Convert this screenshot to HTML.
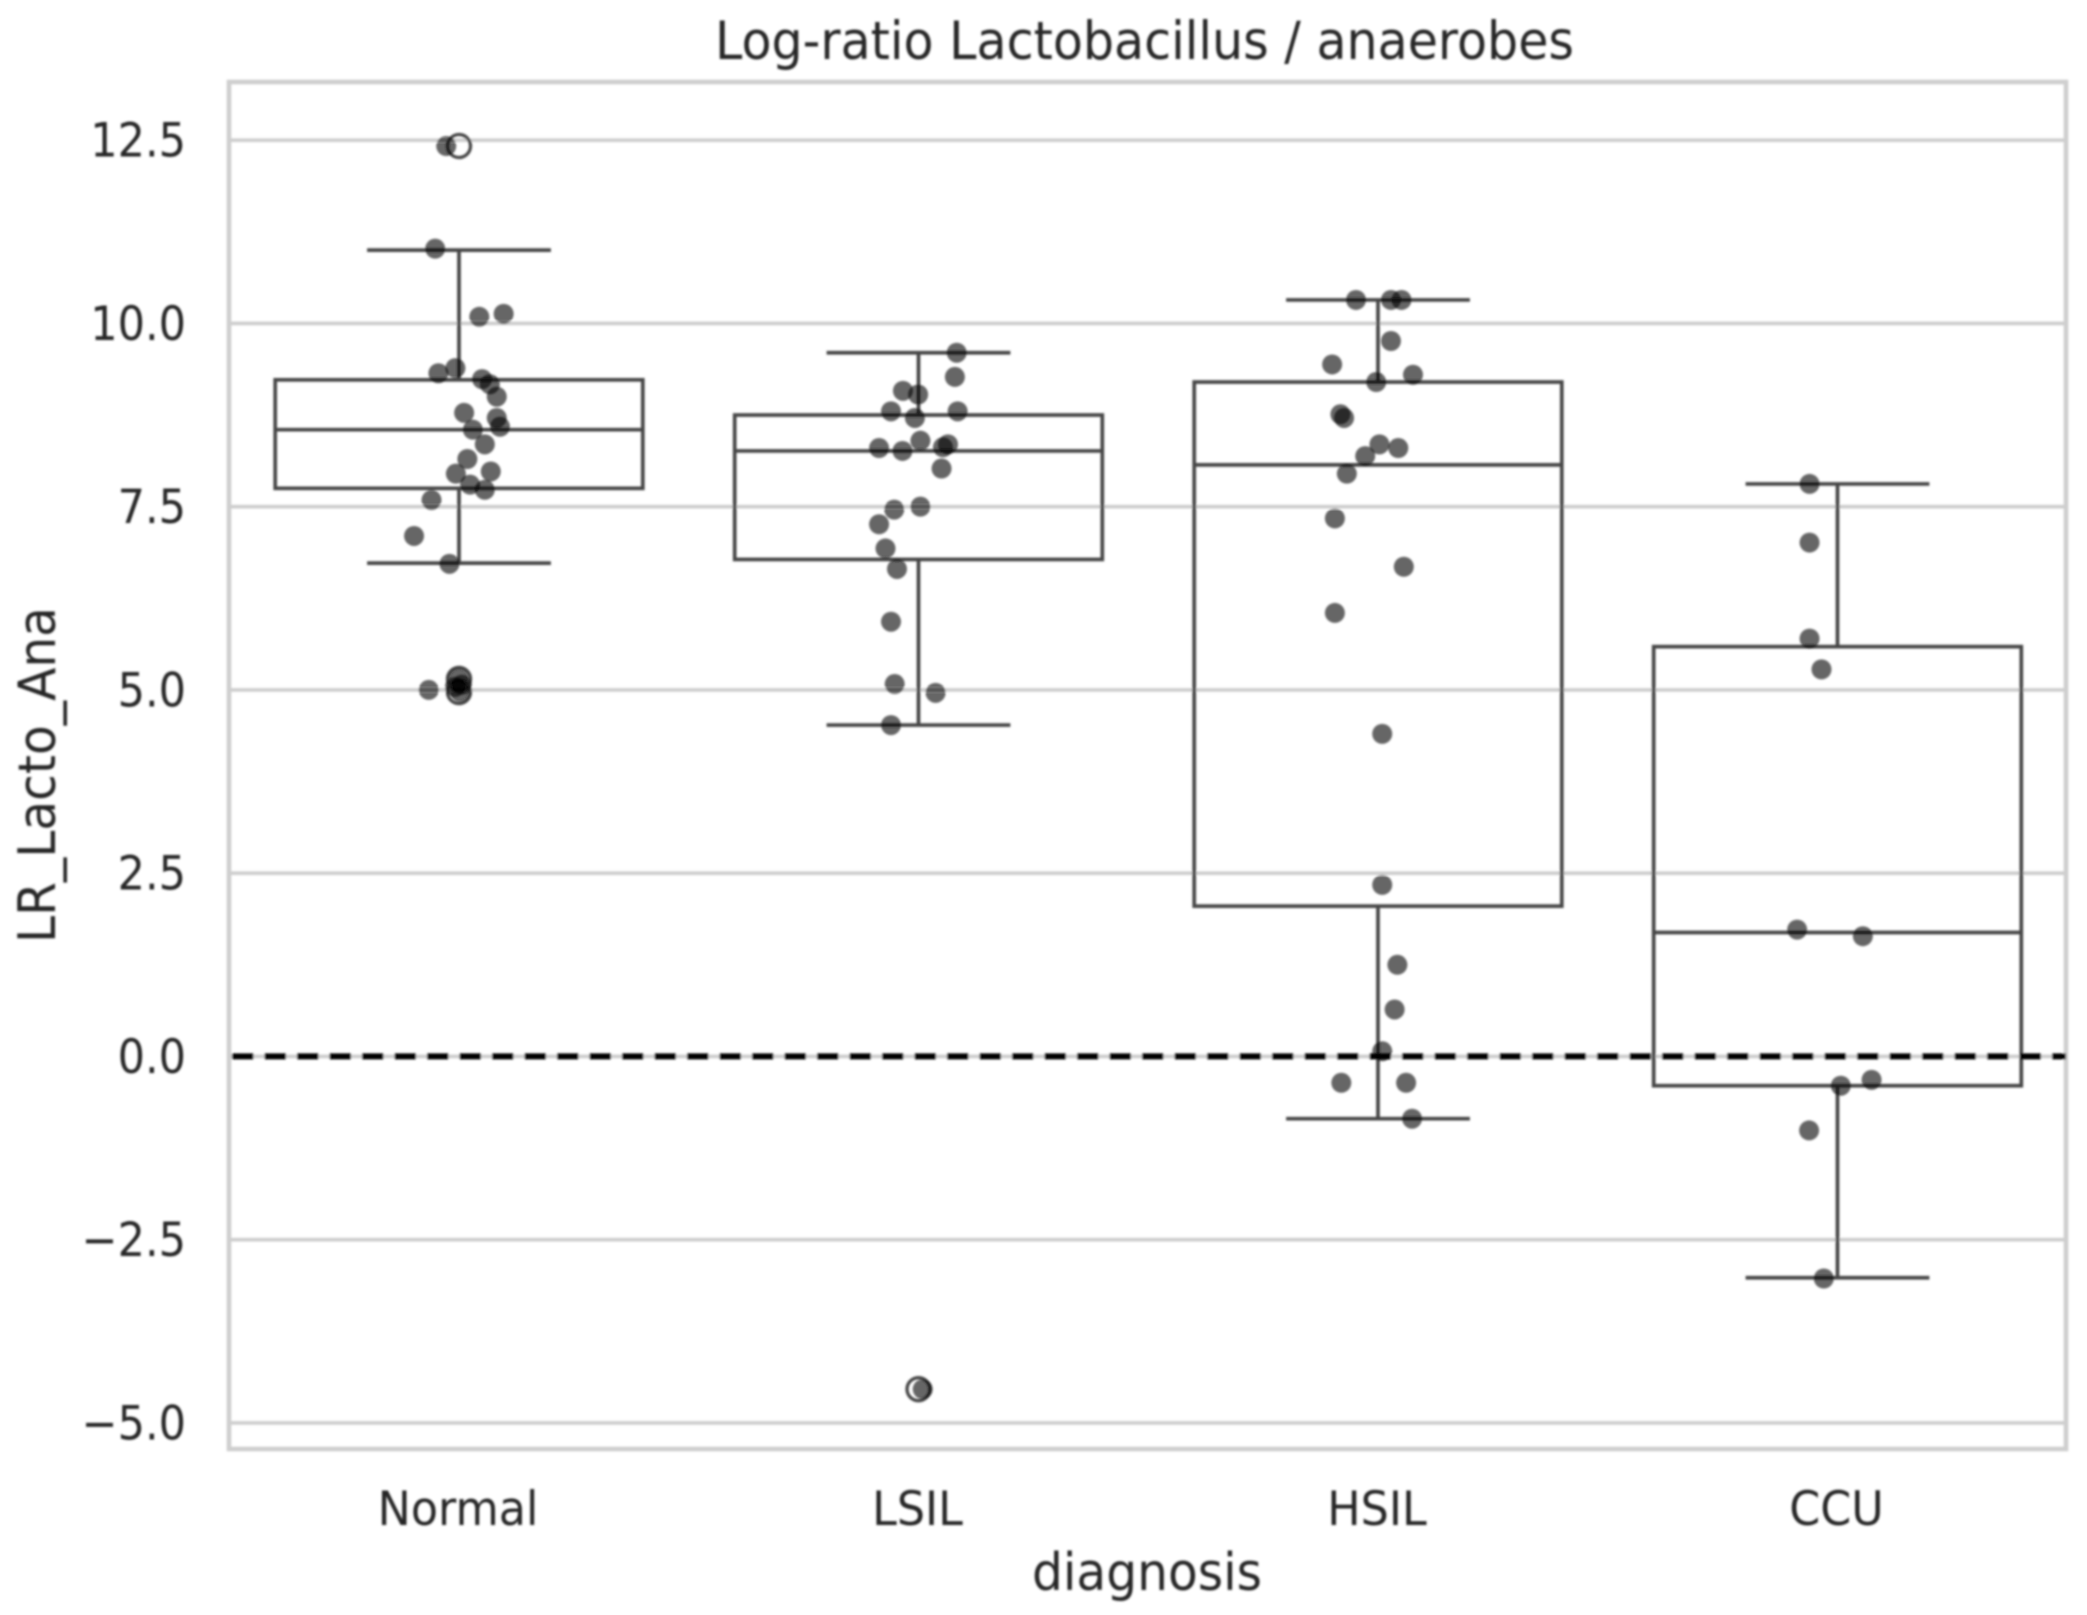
<!DOCTYPE html>
<html lang="en">
<head>
<meta charset="utf-8">
<title>Log-ratio Lactobacillus / anaerobes</title>
<style>
html,body{margin:0;padding:0;background:#fff;}
svg{display:block;}
text{font-family:"DejaVu Sans","Liberation Sans",sans-serif;fill:#262626;}
</style>
</head>
<body>
<svg id="chart" xmlns="http://www.w3.org/2000/svg" width="2087" height="1615" viewBox="0 0 2087 1615">
  <defs>
    <filter id="soft" x="-2%" y="-2%" width="104%" height="104%"><feGaussianBlur stdDeviation="1.1"/></filter>
  </defs>
  <rect x="0" y="0" width="2087" height="1615" fill="#ffffff"/>
  <g id="root" filter="url(#soft)">
    <g id="grid"></g>
    <rect x="229" y="82" width="1837" height="1367" fill="none" stroke="#cfcfcf" stroke-width="4.6"/>
    <g id="boxes"></g>
    <g id="points"></g>
    <g id="zero"></g>
    <g id="yticks"></g>
    <g id="xticks"></g>
    <text x="715" y="59" font-size="53" textLength="859" lengthAdjust="spacingAndGlyphs">Log-ratio Lactobacillus / anaerobes</text>
    <text x="1032" y="1590" font-size="52" textLength="230" lengthAdjust="spacingAndGlyphs">diagnosis</text>
    <text transform="translate(55,943) rotate(-90)" x="0" y="0" font-size="52" textLength="336" lengthAdjust="spacingAndGlyphs">LR_Lacto_Ana</text>
  </g>
</svg>
<script>
const categories = ['Normal', 'LSIL', 'HSIL', 'CCU'];
const yTickValues = [-5, -2.5, 0, 2.5, 5, 7.5, 10, 12.5];
const yTickLabels = ['\u22125.0', '\u22122.5', '0.0', '2.5', '5.0', '7.5', '10.0', '12.5'];

const whiskerLow = [6.73, 4.52, -0.85, -3.02];
const boxQ1 = [7.75, 6.78, 2.05, -0.40];
const boxMedian = [8.55, 8.26, 8.07, 1.69];
const boxQ3 = [9.23, 8.75, 9.20, 5.59];
const whiskerHigh = [11.0, 9.60, 10.32, 7.81];

const normalFliers = [12.42, 5.15, 4.97];
const lsilFliers = [-4.54];
const hsilFliers = [];
const ccuFliers = [];

const normalValues = [12.42, 11.02, 10.09, 10.13, 9.32, 9.39, 9.24, 9.17, 9.00, 8.78, 8.71, 8.59, 8.55, 8.35, 8.15, 7.95, 7.98, 7.80, 7.73, 7.59, 7.10, 6.72, 5.00, 5.16, 5.04, 5.07, 4.97];
const normalJitter = [-0.03, -0.054, 0.042, 0.095, -0.047, -0.01, 0.048, 0.065, 0.08, 0.009, 0.08, 0.087, 0.028, 0.054, 0.016, -0.009, 0.067, 0.022, 0.054, -0.062, -0.1, -0.023, -0.068, -0.003, -0.011, 0.004, 0];

const lsilValues = [9.60, 9.27, 9.08, 9.03, 8.80, 8.80, 8.71, 8.30, 8.26, 8.40, 8.35, 8.31, 8.02, 7.50, 7.46, 7.26, 6.93, 6.65, 5.93, 5.08, 4.96, 4.52, -4.54];
const lsilJitter = [0.081, 0.077, -0.036, -0.003, -0.062, 0.083, -0.01, -0.088, -0.037, 0.002, 0.062, 0.051, 0.048, 0.002, -0.055, -0.088, -0.074, -0.049, -0.062, -0.054, 0.035, -0.062, 0.007];

const hsilValues = [10.32, 10.32, 10.32, 9.76, 9.44, 9.30, 9.20, 8.76, 8.71, 8.35, 8.30, 8.19, 7.95, 7.34, 6.68, 6.05, 4.40, 2.34, 1.25, 0.64, 0.07, -0.36, -0.36, -0.85];
const hsilJitter = [-0.05, 0.026, 0.049, 0.026, -0.102, 0.074, -0.006, -0.084, -0.076, 0.001, 0.042, -0.03, -0.07, -0.096, 0.054, -0.096, 0.007, 0.007, 0.04, 0.034, 0.007, -0.082, 0.059, 0.072];

const ccuValues = [7.81, 7.01, 5.70, 5.28, 1.73, 1.64, -0.40, -0.32, -1.01, -3.03];
const ccuJitter = [-0.063, -0.063, -0.063, -0.037, -0.09, 0.053, 0.005, 0.072, -0.064, -0.032];

const seriesValues = [normalValues, lsilValues, hsilValues, ccuValues];
const seriesJitter = [normalJitter, lsilJitter, hsilJitter, ccuJitter];
const seriesFliers = [normalFliers, lsilFliers, hsilFliers, ccuFliers];

const NS = 'http://www.w3.org/2000/svg';
function xScale(c) { return 459 + 459.5 * c; }
function yScale(v) { return 1056.4 - 73.3 * v; }
function slug(s) { return s.toLowerCase().replace(/[^a-z0-9]+/g, '-'); }
function shape(tag, parent, props) {
  const node = document.createElementNS(NS, tag);
  for (const k in props) node.setAttribute(k, props[k]);
  parent.appendChild(node);
  return node;
}
const LINE = '#464646';
const gridG = document.getElementById('grid');
const boxesG = document.getElementById('boxes');
const pointsG = document.getElementById('points');
const zeroG = document.getElementById('zero');
const yG = document.getElementById('yticks');
const xG = document.getElementById('xticks');

yTickValues.forEach(function (v, i) {
  const g = shape('line', gridG, {x1: 229, x2: 2066, y1: yScale(v), y2: yScale(v), stroke: '#cdcdcd', 'stroke-width': 3.6});
  
  
  const t = shape('text', yG, {x: 186, y: yScale(v) + 16.5, 'font-size': 47, 'text-anchor': 'end'});
  t.textContent = yTickLabels[i];
  
  
  const w = t.getComputedTextLength();
  t.setAttribute('textLength', w * 0.915);
  t.setAttribute('lengthAdjust', 'spacingAndGlyphs');
});

categories.forEach(function (name, c) {
  const cx = xScale(c);
  const halfBox = 0.4 * 459.5;
  const halfCap = 0.2 * 459.5;
  const group = shape('g', boxesG, {fill: 'none', stroke: LINE, 'stroke-width': 3.7});
  
  

  const body = shape('rect', group, {x: cx - halfBox, y: yScale(boxQ3[c]), width: 2 * halfBox, height: yScale(boxQ1[c]) - yScale(boxQ3[c])});
  
  

  const med = shape('line', group, {x1: cx - halfBox, x2: cx + halfBox, y1: yScale(boxMedian[c]), y2: yScale(boxMedian[c])});
  
  

  const wu = shape('line', group, {x1: cx, x2: cx, y1: yScale(boxQ3[c]), y2: yScale(whiskerHigh[c])});
  
  

  const wl = shape('line', group, {x1: cx, x2: cx, y1: yScale(boxQ1[c]), y2: yScale(whiskerLow[c])});
  
  

  const cu = shape('line', group, {x1: cx - halfCap, x2: cx + halfCap, y1: yScale(whiskerHigh[c]), y2: yScale(whiskerHigh[c])});
  
  

  const cl = shape('line', group, {x1: cx - halfCap, x2: cx + halfCap, y1: yScale(whiskerLow[c]), y2: yScale(whiskerLow[c])});
  
  

  seriesFliers[c].forEach(function (v) {
    const f = shape('circle', group, {cx: cx, cy: yScale(v), r: 11.5, 'stroke-width': 3.3});
    
    
  });

  seriesValues[c].forEach(function (v, i) {
    const p = shape('circle', pointsG, {cx: cx + 1 + seriesJitter[c][i] * 459.5, cy: yScale(v), r: 10, fill: '#000', 'fill-opacity': 0.6});
    
    
  });

  const lab = shape('text', xG, {x: cx - 1, y: 1525, 'font-size': 47, 'text-anchor': 'middle'});
  lab.textContent = name;
  
  
  const w = lab.getComputedTextLength();
  lab.setAttribute('textLength', w * 0.945);
  lab.setAttribute('lengthAdjust', 'spacingAndGlyphs');
});

const zeroLine = shape('line', zeroG, {x1: 232, x2: 2066, y1: yScale(0), y2: yScale(0), stroke: '#000', 'stroke-width': 6, 'stroke-dasharray': '21.5 11'});


</script>
</body>
</html>
